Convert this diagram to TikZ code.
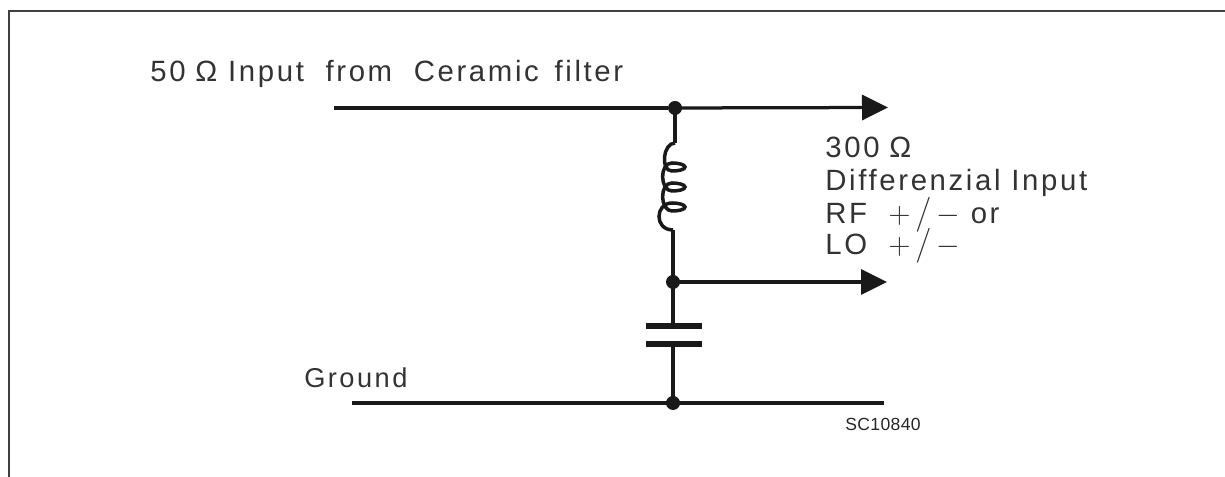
\documentclass[tikz,border=0pt]{standalone}
\usepackage{fontspec}
\usetikzlibrary{arrows.meta}
\newfontfamily\labelfont[LetterSpace=9]{Liberation Sans}
\newfontfamily\codefont[LetterSpace=2]{Liberation Sans}
\newcommand{\plusminus}{$+$\,\smash{\scalebox{1.15}{$/$}}\,$-$}
\tikzset{
  wire/.style={line width=0.065cm,color=black!90},
  feed/.style={wire,-{Triangle[length=0.52cm,width=0.5cm]}},
  junction/.style={circle,fill=black!90,inner sep=0pt,minimum size=0.28cm},
  plate/.style={line width=0.13cm,color=black!90},
  txt/.style={anchor=base west,inner sep=0pt,font=\labelfont\fontsize{16.7}{19}\selectfont,color=black!80},
}
\begin{document}
\begin{tikzpicture}
    \useasboundingbox (0,0) rectangle (24.5,9.54);
    % frame
    \draw[line width=0.03cm,color=black!75] (0.18,0) -- (0.18,9.32) -- (24.5,9.32);
    % points on the wires
    \coordinate (inL) at (6.68,7.38);
    \coordinate (outA) at (17.76,7.39);
    \coordinate (coilT) at (13.5,6.68);
    \coordinate (coilB) at (13.46,4.94);
    \coordinate (outB) at (17.74,3.9);
    \coordinate (capT) at (13.46,3.02);
    \coordinate (capB) at (13.46,2.66);
    \coordinate (gndL) at (7.04,1.48);
    \coordinate (gndR) at (17.68,1.48);
    \node[junction] (top) at (13.5,7.38) {};
    \node[junction] (mid) at (13.46,3.9) {};
    \node[junction] (gnd) at (13.46,1.48) {};
    % wires
    \draw[wire] (inL) -- (top);
    \draw[feed] (top.center) -- (outA);
    \draw[wire] (top.center) -- (coilT);
    \draw[wire] (coilB) -- (mid.center);
    \draw[feed] (mid.center) -- (outB);
    \draw[wire] (mid.center) -- (capT);
    \draw[wire] (capB) -- (gnd.center);
    \draw[wire] (gndL) -- (gndR);
    % coil
    \draw[line width=0.07cm,color=black!90] (coilT)
      .. controls (13.26,6.68) and (13.2,6.12) .. (13.44,6.12)
      .. controls (13.58,6.12) and (13.7,6.15) .. (13.7,6.2)
      .. controls (13.7,6.25) and (13.56,6.28) .. (13.44,6.28)
      .. controls (13.18,6.28) and (13.2,5.72) .. (13.44,5.72)
      .. controls (13.58,5.72) and (13.7,5.75) .. (13.7,5.8)
      .. controls (13.7,5.85) and (13.56,5.88) .. (13.44,5.88)
      .. controls (13.18,5.88) and (13.2,5.32) .. (13.44,5.32)
      .. controls (13.58,5.32) and (13.7,5.35) .. (13.7,5.4)
      .. controls (13.7,5.45) and (13.56,5.48) .. (13.44,5.48)
      .. controls (13.1,5.48) and (13.08,4.94) .. (coilB);
    % capacitor
    \draw[plate] (12.92,3.02) -- (capT) -- (14.04,3.02);
    \draw[plate] (12.92,2.66) -- (capB) -- (14.04,2.66);
    % labels
    \node[txt] (lblin) at (3,7.9) {50\,\,Ω Input\ \ from\ \ Ceramic\ \,filter};
    \node[txt,font=\labelfont\fontsize{15.5}{17}\selectfont] (lblgnd) at (6.08,1.78) {Ground};
    \node[txt] (lblz) at (16.5,6.38) {300\,\,Ω};
    \node[txt] (lbldiff) at (16.5,5.72) {Differenzial\ Input};
    \node[txt] (lblrf) at (16.5,5.06) {RF\ \ \plusminus\ or};
    \node[txt] (lbllo) at (16.5,4.44) {LO\ \ \plusminus};
    \node[anchor=base west,inner sep=0pt,font=\codefont\fontsize{10}{11}\selectfont,color=black!85] (lblcode) at (16.9,0.92) {SC10840};
\end{tikzpicture}
\end{document}
